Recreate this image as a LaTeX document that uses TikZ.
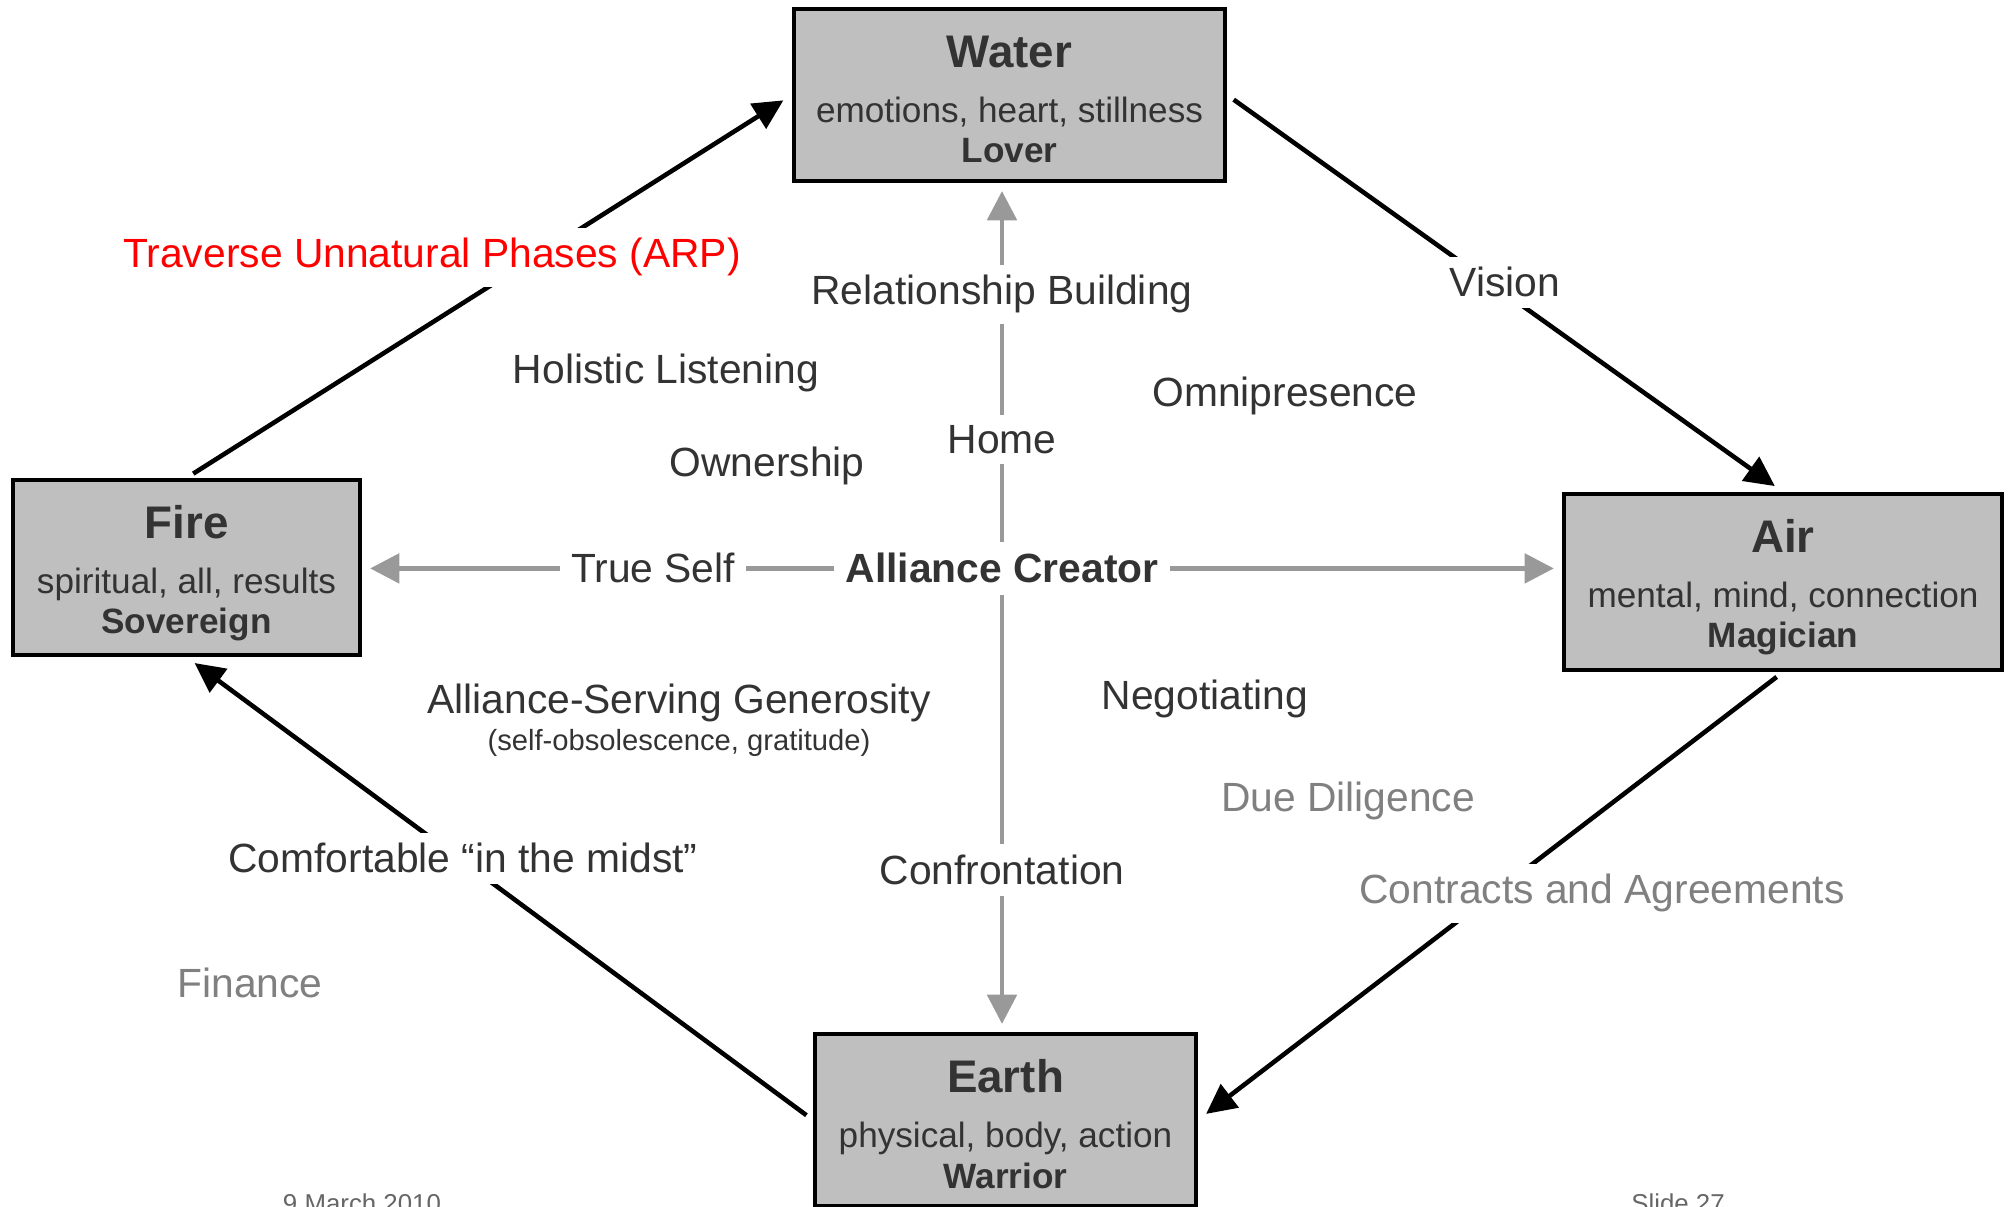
\documentclass[tikz,border=0pt]{standalone}
\usepackage{fontspec}
\setmainfont{Liberation Sans}
\usepackage{tikz}
\usetikzlibrary{arrows.meta,positioning,backgrounds}
\tikzset{
  elem/.style   = {rectangle, draw=black, line width=1.3pt, fill=black!25},
  ttl/.style    = {text=black!80, anchor=base, inner sep=0pt,
                   font=\fontsize{13}{16}\selectfont\bfseries},
  desc/.style   = {text=black!80, anchor=base, inner sep=0pt,
                   font=\fontsize{10}{12}\selectfont},
  arch/.style   = {desc, font=\fontsize{10}{12}\selectfont\bfseries},
  lbl/.style    = {fill=white, text=black!80, inner sep=3pt, anchor=base,
                   font=\fontsize{11.6}{13.9}\selectfont},
  glbl/.style   = {lbl, text=black!50},
  rlbl/.style   = {lbl, text=red},
  footer/.style = {text=black!60, anchor=base, font=\fontsize{7.35}{8.8}\selectfont},
  arr/.style    = {-{Triangle[length=8.5pt,width=8.2pt]}, line width=1.3pt,
                   draw=black, shorten <=0.08cm, shorten >=0.1cm},
  garr/.style   = {-{Triangle[length=8.3pt,width=8.3pt]}, line width=1.3pt,
                   draw=black!40, shorten >=0.08cm},
}
\begin{document}
\begin{tikzpicture}[x=0.01cm, y=-0.01cm]
\useasboundingbox (0,0) rectangle (2009,1207);

%% ── Element boxes ─────────────────────────────────────────
\node[elem, minimum width=4.305cm, minimum height=1.715cm] (water) at (1009.5,95) {};
\node[ttl]  (waterttl)  at ([yshift=-0.61cm]water.north) {Water};
\node[desc] (waterdesc) at ([yshift=-1.16cm]water.north) {emotions, heart, stillness};
\node[arch] (waterarch) at ([yshift=-1.56cm]water.north) {Lover};

\node[elem, minimum width=3.465cm, minimum height=1.745cm] (fire) at (186.5,567.5) {};
\node[ttl]  (firettl)  at ([yshift=-0.61cm]fire.north) {Fire};
\node[desc] (firedesc) at ([yshift=-1.16cm]fire.north) {spiritual, all, results};
\node[arch] (firearch) at ([yshift=-1.56cm]fire.north) {Sovereign};

\node[elem, minimum width=4.375cm, minimum height=1.755cm] (air) at (1783,582) {};
\node[ttl]  (airttl)  at ([yshift=-0.61cm]air.north) {Air};
\node[desc] (airdesc) at ([yshift=-1.16cm]air.north) {mental, mind, connection};
\node[arch] (airarch) at ([yshift=-1.56cm]air.north) {Magician};

\node[elem, minimum width=3.805cm, minimum height=1.715cm] (earth) at (1005.5,1120) {};
\node[ttl]  (earthttl)  at ([yshift=-0.61cm]earth.north) {Earth};
\node[desc] (earthdesc) at ([yshift=-1.16cm]earth.north) {physical, body, action};
\node[arch] (eartharch) at ([yshift=-1.56cm]earth.north) {Warrior};

%% ── Centre and axis labels ────────────────────────────────
\node[lbl, font=\fontsize{11.6}{13.9}\selectfont\bfseries] (centre) at (1002,583)
  {Alliance Creator};
\node[lbl, above=2.175cm of centre] (relbuild) {Relationship Building};
\node[lbl, above=0.77cm of centre]  (home)     {Home};
\node[lbl, below=2.49cm of centre]  (confront) {Confrontation};
\node[lbl, left=0.88cm of centre]   (trueself) {True Self};

%% ── Free labels ───────────────────────────────────────────
\node[rlbl] (arp)      at (432,268)  {Traverse Unnatural Phases (ARP)};
\node[lbl]  (vision)   at (1505,297) {Vision};
\node[lbl]  (holistic) at (666,384)  {Holistic Listening};
\node[lbl]  (omni)     at (1285,407) {Omnipresence};
\node[lbl]  (owner)    at (767,477)  {Ownership};
\node[lbl, anchor=center, align=center] (generosity) at (679,720)
  {Alliance-Serving Generosity\\[-3.4pt]
   {\fontsize{8.3}{10}\selectfont (self-obsolescence, gratitude)}};
\node[lbl]  (negot)     at (1205,710) {Negotiating};
\node[glbl] (diligence) at (1348,812) {Due Diligence};
\node[lbl]  (midst)     at (463,873)  {Comfortable “in the midst”};
\node[glbl] (contracts) at (1602,904) {Contracts and Agreements};
\node[glbl] (finance)   at (250,998)  {Finance};

%% ── Footer ────────────────────────────────────────────────
\node[footer] (date)  at (362,1212)  {9 March 2010};
\node[footer] (slide) at (1678,1212) {Slide 27};

%% ── Arrows ────────────────────────────────────────────────
\begin{scope}[on background layer]
\draw[arr] (fire.north) -- (water.west);
\draw[arr] (water.east) -- (air.north);
\draw[arr] (air.south)  -- (earth.east);
\draw[arr] (earth.west) -- (fire.south);

\draw[garr] (centre) -- (centre |- water.south);
\draw[garr] (centre) -- (centre |- earth.north);
\draw[garr] (centre) -- (centre -| fire.east);
\draw[garr] (centre) -- (centre -| air.west);
\end{scope}

\end{tikzpicture}
\end{document}
